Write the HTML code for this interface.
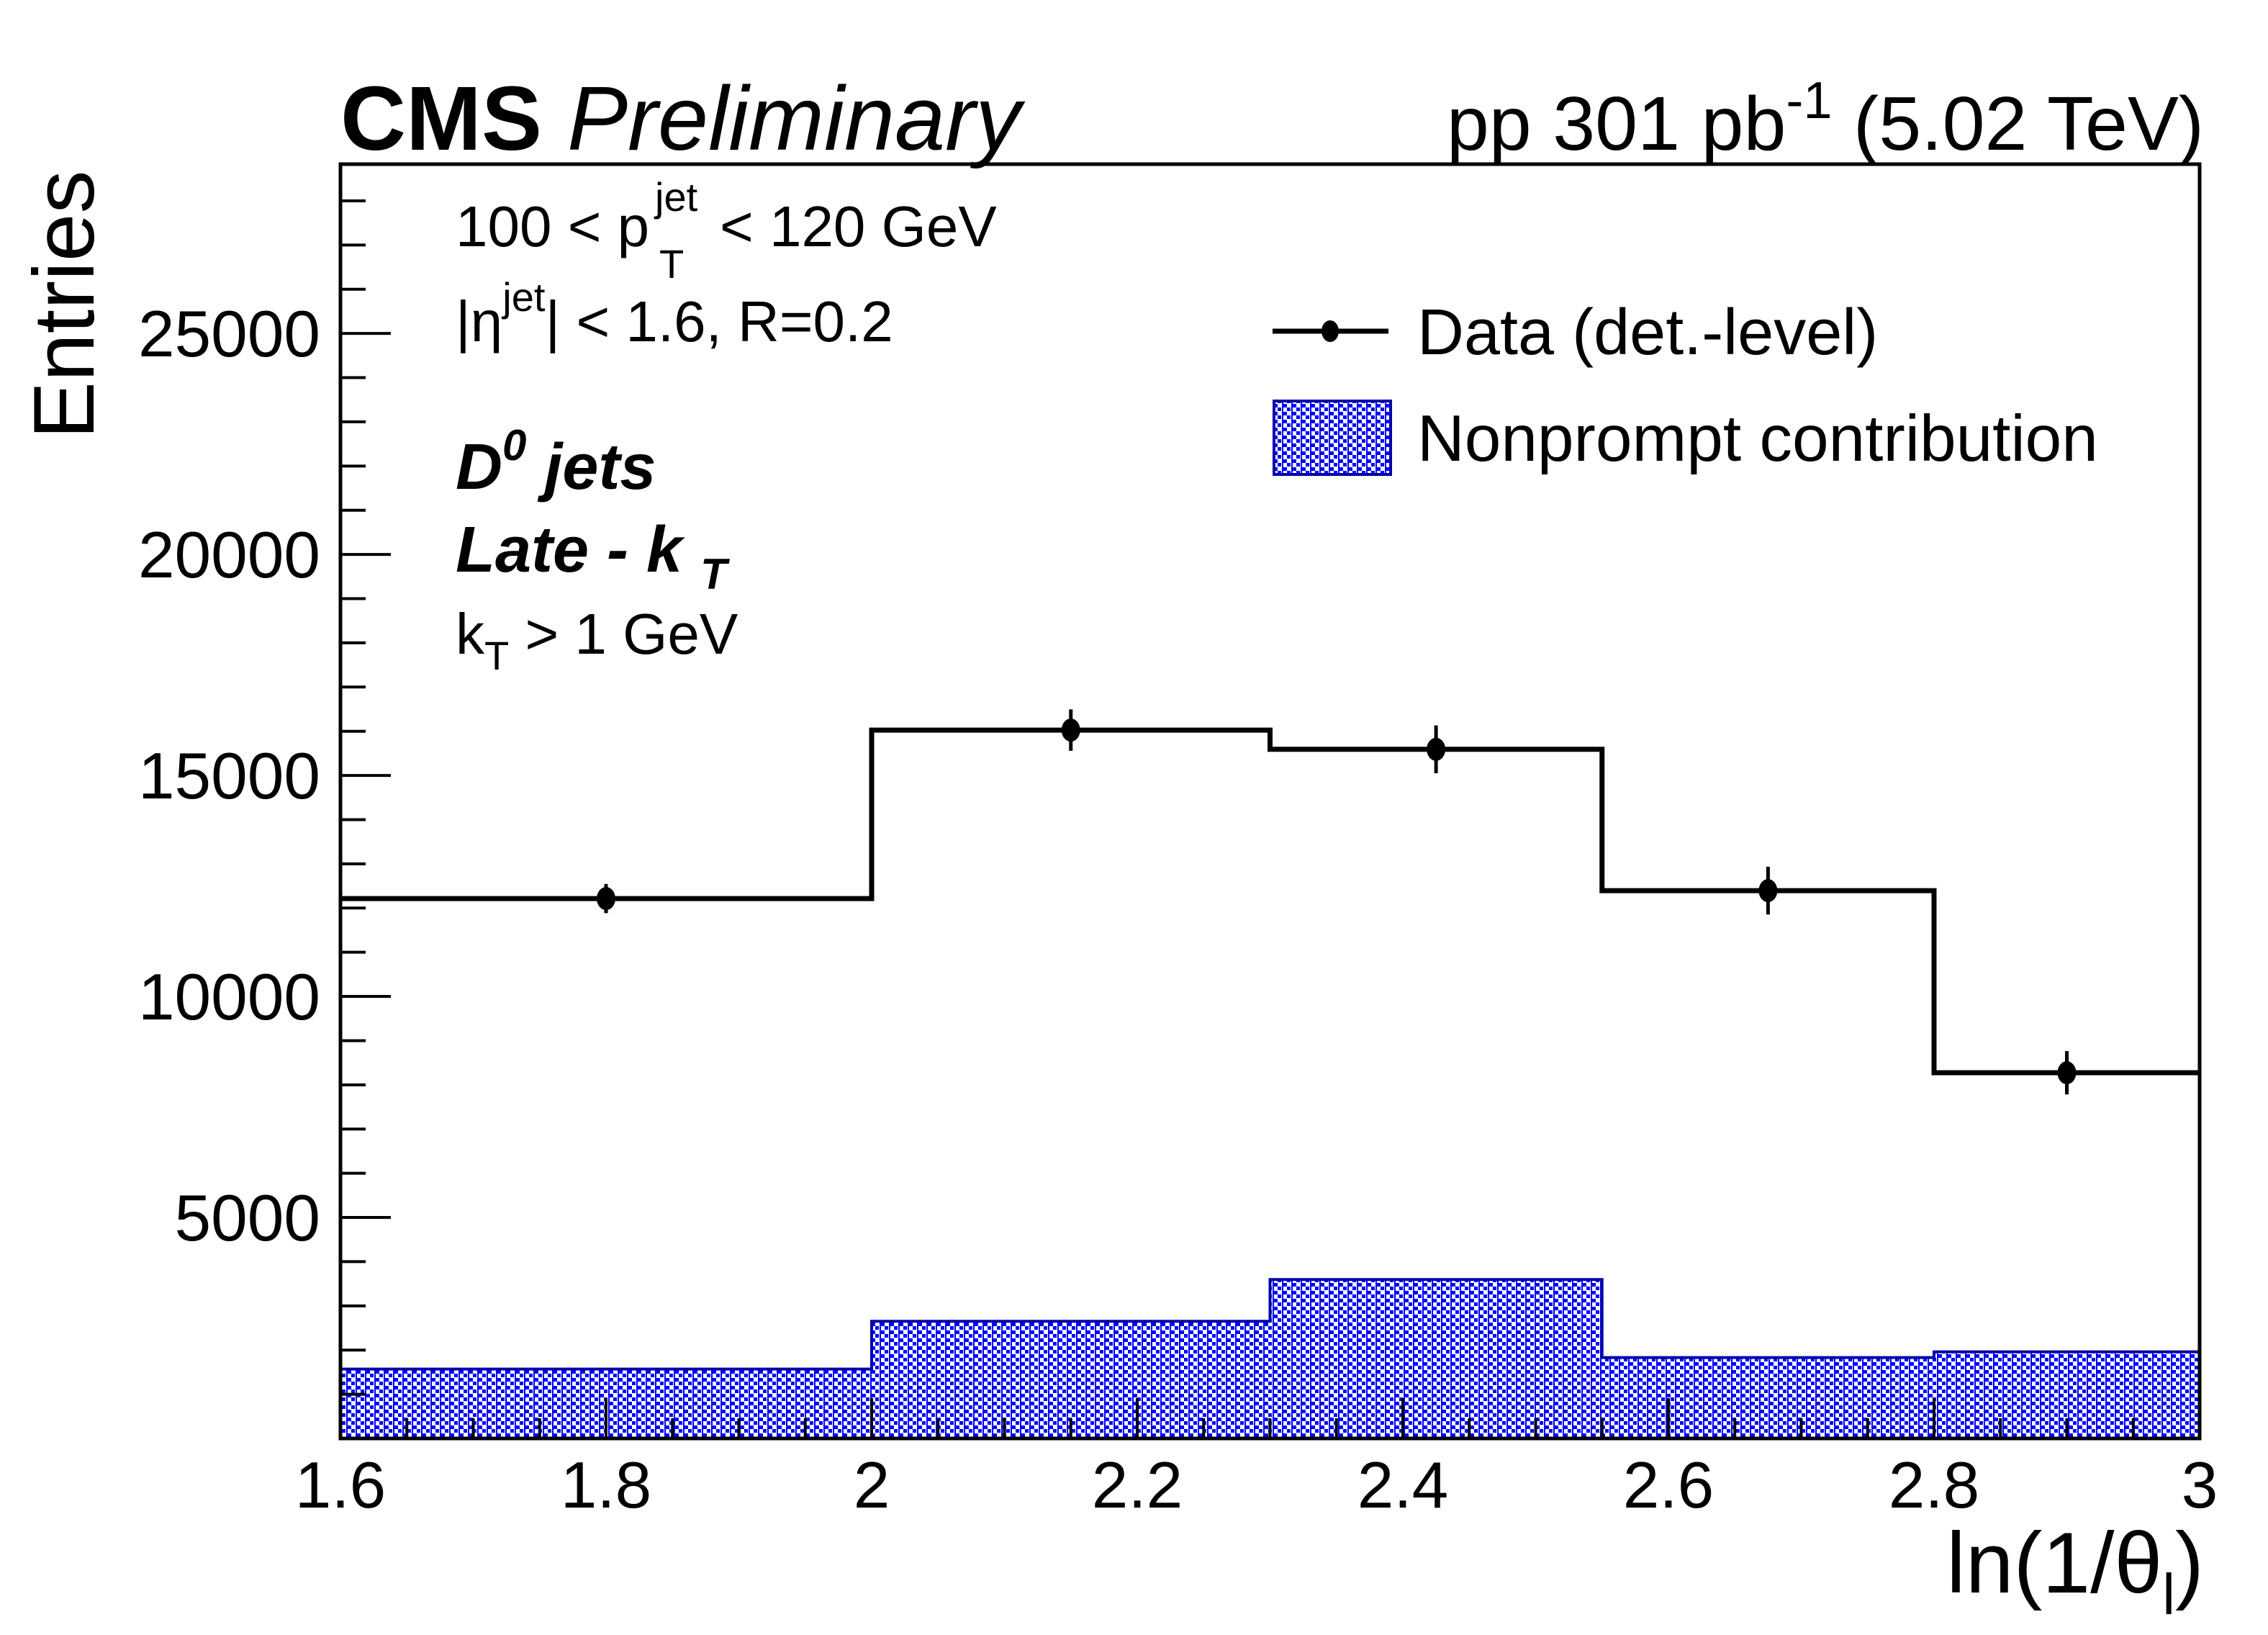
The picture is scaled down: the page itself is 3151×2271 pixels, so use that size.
<!DOCTYPE html>
<html><head><meta charset="utf-8"><style>
html,body{margin:0;padding:0;background:#fff;}
svg{display:block;font-family:"Liberation Sans",Arial,sans-serif;}
</style></head><body>
<svg id="chart" width="3151" height="2271" viewBox="0 0 3151 2271" xmlns="http://www.w3.org/2000/svg">
<defs>
<pattern id="hatch" width="13" height="11" patternUnits="userSpaceOnUse">
<rect width="13" height="11" fill="#fff"/>
<rect x="0" y="0" width="7" height="5" fill="#0000ff"/>
<rect x="7" y="5" width="5" height="5" fill="#0000ff"/>
<rect x="0" y="5" width="2" height="6" fill="#0000ff"/>
</pattern>
</defs>
<g id="plot"></g>
<text x="473" y="208" font-size="126" font-weight="bold">CMS <tspan font-weight="normal" font-style="italic">Preliminary</tspan></text>
<text x="3062" y="208" font-size="106" text-anchor="end">pp 301 pb<tspan font-size="72" dy="-44">-1</tspan><tspan dy="44"> (5.02 TeV)</tspan></text>
<g>
<text x="633" y="342" font-size="80">100 &lt; p</text>
<text x="910" y="293" font-size="56">jet</text>
<text x="916" y="386" font-size="56">T</text>
<text x="1000" y="342" font-size="80">&lt; 120 GeV</text>
</g>
<text x="633" y="474" font-size="80">|η<tspan font-size="56" dy="-42">jet</tspan><tspan dy="42">| &lt; 1.6, R=0.2</tspan></text>
<text x="633" y="679" font-size="90" font-weight="bold" font-style="italic">D<tspan font-size="60" dy="-40">0</tspan><tspan dy="40"> jets</tspan></text>
<text x="633" y="794" font-size="90" font-weight="bold" font-style="italic">Late - k <tspan font-size="60" dy="24">T</tspan></text>
<text x="633" y="908" font-size="80">k<tspan font-size="56" dy="22">T</tspan><tspan dy="-22"> &gt; 1 GeV</tspan></text>
<g>
<line x1="1768" y1="460" x2="1929" y2="460" stroke="#000" stroke-width="7"/>
<ellipse cx="1848" cy="460" rx="12" ry="15" fill="#000"/>
<text x="1969" y="492" font-size="90">Data (det.-level)</text>
<rect x="1770" y="557" width="162" height="102" fill="url(#hatch)" stroke="#0000aa" stroke-width="4"/>
<text x="1969" y="640" font-size="91">Nonprompt contribution</text>
</g>
<text transform="translate(130,610) rotate(-90)" font-size="120">Entries</text>
<text x="3062" y="2212" font-size="120" text-anchor="end">ln(1/θ<tspan font-size="80" dy="30">l</tspan><tspan dy="-30">)</tspan></text>
</svg>
<script>
const binEdges = [1.6, 2.0, 2.3, 2.55, 2.8, 3.0];
const dataValues = [12215, 16026, 15591, 12394, 8274];
const dataErrors = [330, 468, 540, 540, 490];
const nonpromptValues = [1570, 2650, 3595, 1830, 1960];
const xTickLabels = ["1.6", "1.8", "2", "2.2", "2.4", "2.6", "2.8", "3"];
const yTickLabels = ["5000", "10000", "15000", "20000", "25000"];

const X0 = 473, X1 = 3056, Y0 = 1998, Y1 = 228;
const xMin = 1.6, xMax = 3.0, yMin = 0, yMax = 28830;
const NS = "http://www.w3.org/2000/svg";
function xs(v){ return X0 + (v - xMin) / (xMax - xMin) * (X1 - X0); }
function ys(v){ return Y0 - (v - yMin) / (yMax - yMin) * (Y0 - Y1); }
const g = document.getElementById('plot');
function mk(tag, attrs){ const e = document.createElementNS(NS, tag); for (const k in attrs) e.setAttribute(k, attrs[k]); g.appendChild(e); return e; }

let d = "M" + xs(binEdges[0]) + "," + ys(0);
for (let i = 0; i < nonpromptValues.length; i++) {
  d += " L" + xs(binEdges[i]) + "," + ys(nonpromptValues[i]) + " L" + xs(binEdges[i+1]) + "," + ys(nonpromptValues[i]);
}
d += " L" + xs(binEdges[binEdges.length-1]) + "," + ys(0) + " Z";
const np = mk('path', {d: d, fill: 'url(#hatch)', stroke: '#0000aa', 'stroke-width': 4});



let s = "";
for (let i = 0; i < dataValues.length; i++) {
  s += (i === 0 ? "M" : " L") + xs(binEdges[i]) + "," + ys(dataValues[i]) + " L" + xs(binEdges[i+1]) + "," + ys(dataValues[i]);
}
const dl = mk('path', {d: s, fill: 'none', stroke: '#000', 'stroke-width': 7});



for (let i = 0; i < dataValues.length; i++) {
  const cx = xs((binEdges[i] + binEdges[i+1]) / 2);
  const eb = mk('line', {x1: cx, x2: cx, y1: ys(dataValues[i] - dataErrors[i]), y2: ys(dataValues[i] + dataErrors[i]), stroke: '#000', 'stroke-width': 5});
  
  
  const pt = mk('ellipse', {cx: cx, cy: ys(dataValues[i]), rx: 13, ry: 16, fill: '#000'});
  
  
}

const fr = mk('rect', {x: X0, y: Y1, width: X1 - X0, height: Y0 - Y1, fill: 'none', stroke: '#000', 'stroke-width': 5});



for (let v = 1000; v <= yMax; v += 1000) {
  const major = v % 5000 === 0;
  const t = mk('line', {x1: X0, x2: X0 + (major ? 70 : 35), y1: ys(v), y2: ys(v), stroke: '#000', 'stroke-width': 4});
  
  
}
yTickLabels.forEach(function(lbl){
  const t = mk('text', {x: X0 - 28, y: ys(parseFloat(lbl)) + 32, 'font-size': 91, 'text-anchor': 'end'});
  t.textContent = lbl;
  
  
});
for (let k = 0; k <= 28; k++) {
  const v = xMin + k * 0.05;
  const major = k % 4 === 0;
  const t = mk('line', {x1: xs(v), x2: xs(v), y1: Y0, y2: Y0 - (major ? 56 : 28), stroke: '#000', 'stroke-width': 4});
  
  
}
xTickLabels.forEach(function(lbl){
  const t = mk('text', {x: xs(parseFloat(lbl)), y: 2094, 'font-size': 91, 'text-anchor': 'middle'});
  t.textContent = lbl;
  
  
});
</script>
</body></html>
